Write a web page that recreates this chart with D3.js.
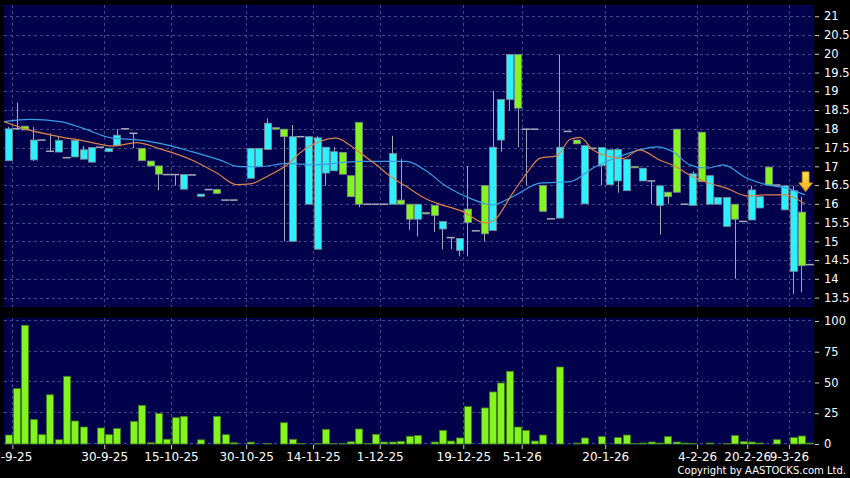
<!DOCTYPE html>
<html>
<head>
<meta charset="utf-8">
<script src="https://cdn.jsdelivr.net/npm/d3@7"></script>
<style>
  body { margin: 0; background: #000; }
  svg { display: block; }
</style>
</head>
<body>
<svg id="chart" width="850" height="478"></svg>
<script>
// one entry per trading slot (97 slots), null = no trade drawn
const openPrices = [17.15,18.0,18.07,17.17,17.7,17.4,17.38,17.23,17.25,17.19,17.11,17.51,17.39,17.55,18.0,17.88,17.48,17.14,17.01,16.78,
  16.78,16.39,16.77,16.2,16.38,16.38,16.1,16.1,null,16.68,16.99,17.45,18.03,17.99,15.0,17.79,15.99,14.79,16.82,16.88,
  17.37,16.75,18.17,15.99,15.99,15.99,15.99,16.1,15.99,15.59,15.77,15.96,15.33,15.1,14.76,15.86,15.28,16.49,15.29,17.7,
  18.78,19.98,17.99,17.99,16.49,15.6,15.62,17.93,17.7,16.0,17.48,17.02,16.51,16.61,16.35,17.0,16.61,16.61,15.96,16.31,
  17.99,15.99,15.96,17.91,15.99,15.99,15.4,15.99,15.53,15.57,15.89,16.98,16.5,15.84,14.2,15.78,14.38];
const highPrices = [18.05,18.7,18.07,18.05,17.7,17.88,17.79,17.23,17.69,17.54,17.5,17.51,17.48,17.99,18.0,17.88,17.48,17.14,17.01,16.78,
  16.78,16.78,16.77,16.26,16.38,16.38,16.1,16.1,null,17.48,17.48,18.28,18.03,17.99,18.1,17.79,17.79,17.81,17.51,17.51,
  17.37,16.75,18.17,15.99,15.99,15.99,17.81,17.2,15.99,15.99,15.77,15.96,15.53,15.1,15.08,17.01,15.28,16.49,19.01,18.78,
  19.98,19.98,17.99,17.99,16.49,15.6,19.98,17.93,17.7,17.55,17.48,17.5,17.44,17.45,17.19,17.0,16.95,16.61,16.48,16.31,
  17.99,15.99,16.86,17.91,16.75,16.17,16.17,15.99,15.53,16.48,16.19,16.98,16.5,16.48,16.48,16.19,14.38];
const lowPrices = [17.15,18.0,17.97,17.14,17.7,17.4,17.38,17.23,17.25,17.19,17.11,17.51,17.39,17.55,18.0,17.48,17.15,17.01,16.36,16.78,
  16.49,16.39,16.77,16.2,16.38,16.28,16.1,16.1,null,16.68,16.99,17.45,17.99,15.0,15.0,17.79,15.99,14.79,16.48,16.88,
  16.79,16.19,15.91,15.99,15.99,15.99,15.99,15.99,15.31,15.13,15.73,15.25,14.79,14.79,14.6,14.6,15.28,15.0,15.29,17.39,
  18.48,17.51,16.49,17.99,15.8,15.6,15.62,17.93,17.6,16.0,17.48,16.5,16.51,16.3,16.35,16.97,16.61,15.99,15.18,15.99,
  16.31,15.99,15.96,16.59,15.99,15.99,15.4,14.0,15.53,15.57,15.89,16.5,16.5,15.84,13.6,13.64,14.38];
const closePrices = [18.0,18.0,17.97,17.7,17.7,17.4,17.69,17.23,17.69,17.44,17.5,17.51,17.48,17.83,18.0,17.88,17.15,17.01,16.79,16.78,
  16.78,16.78,16.77,16.26,16.38,16.28,16.1,16.1,null,17.48,17.48,18.15,17.99,17.79,17.79,17.79,17.79,17.76,17.51,17.39,
  16.79,16.19,15.99,15.99,15.99,15.99,17.34,15.99,15.59,15.99,15.73,15.69,15.53,15.1,15.08,15.5,15.28,15.2,17.51,18.78,
  19.98,18.55,17.99,17.99,15.8,15.6,17.51,17.93,17.6,17.55,17.48,17.5,17.44,17.45,17.19,16.97,16.95,16.61,16.48,16.19,
  16.31,15.99,16.8,16.59,16.75,16.17,16.17,15.59,15.53,16.37,16.19,16.5,16.5,16.48,16.35,14.35,14.38];
const volumes = [7.3,45,96.5,20,7.6,40,3.5,55,18.7,13.8,0,13,7.6,12.6,0,18.4,31.4,1,24.7,3.9,
  21.4,22.5,0,3.4,0,22.5,7.6,1,0,1.5,0,0.5,0,17.3,3.8,0.5,0,0.3,11.9,0.3,
  0.5,1.8,12.2,0.5,7.9,1.6,1.6,2.2,6.3,6.9,0,1.6,11.1,2.4,4.9,30.4,0,29.3,42.3,49.6,
  59.1,13.8,11.1,2.4,7.3,0,62.6,0,0.8,4.9,0,6,0,5.2,7.3,0.4,0.8,1.6,0.8,6,
  1.6,0.8,0.5,0,0.8,0,0.5,7,1.9,1.6,0.8,0,3.5,0,5.2,6.5,0.8];

// moving averages (slot position, price)
const maShortSlots = [-0.5,1.8,5,9,12.5,15.4,18,22,25,27.4,29,31,33.4,34.9,37.3,39.3,40.9,42.5,44.1,45.7,47.7,49.9,51.3,54.4,57.1,58,60.4,62.1,63.7,65.7,67.3,68.5,70,72,73.6,75.6,78,80,81.6,84,86,88.5,90.8,93.2,93.9,95.4];
const maShortValues = [18.19,18.01,17.84,17.68,17.54,17.63,17.48,17.17,16.82,16.51,16.53,16.73,17.04,17.35,17.66,17.75,17.57,17.3,17.04,16.74,16.46,16.15,16.02,15.8,15.49,15.53,16.28,16.82,17.22,17.28,17.72,17.77,17.44,17.26,17.21,17.44,17.17,16.99,16.77,16.55,16.42,16.21,16.24,16.24,16.19,16.0];
const maLongSlots = [-0.5,2.6,6.2,9,12.5,15.8,19,22,25.3,27.7,30.1,33.4,36.5,42.1,47.7,49.9,52.5,55.6,58,60.4,63.7,67.3,70,73.2,75.3,77.7,79.6,81.6,83.7,85.6,88.5,90.8,93.2,95.4];
const maLongValues = [18.19,18.25,18.19,18.01,17.75,17.7,17.57,17.39,17.17,16.99,16.99,17.08,17.04,17.13,17.13,16.9,16.46,16.12,15.97,16.19,16.55,16.59,16.95,17.26,17.42,17.52,17.39,17.04,16.95,17.04,16.68,16.51,16.42,16.24];

const dateTickSlots = [0.5,11.5,19.5,28.5,36.5,44.5,54.5,61.5,71.5,82.5,88.5,93.5];
const dateTickLabels = ["17-9-25","30-9-25","15-10-25","30-10-25","14-11-25","1-12-25","19-12-25","5-1-26","20-1-26","4-2-26","20-2-26","9-3-26"];
const priceTicks = [13.5,14,14.5,15,15.5,16,16.5,17,17.5,18,18.5,19,19.5,20,20.5,21];
const volumeTicks = [0,25,50,75,100];

const svg = d3.select("#chart");
const left = 4, right = 814;
const priceTop = 5, priceBottom = 307;
const volTop = 318, volBottom = 445;

const x = d3.scaleLinear().domain([-0.5, 96.5]).range([left, right]);
const yP = d3.scaleLinear().domain([13.25, 21.3]).range([priceBottom, priceTop]);
const yV = d3.scaleLinear().domain([0, 102.4]).range([444, volTop]);

const panelFill = "#02024c";
const gridColor = "#3d4a8e";
const upColor = "#2cf0fc";
const downColor = "#84f41e";

svg.append("rect").attr("width", 850).attr("height", 478).attr("fill", "#000");
svg.append("rect").attr("x", left).attr("y", priceTop).attr("width", right - left).attr("height", priceBottom - priceTop).attr("fill", panelFill);
svg.append("rect").attr("x", left).attr("y", volTop).attr("width", right - left).attr("height", volBottom - volTop).attr("fill", panelFill);

const defs = svg.append("defs");
defs.append("clipPath").attr("id", "clipPrice").append("rect")
  .attr("x", left).attr("y", priceTop).attr("width", right - left).attr("height", priceBottom - priceTop);
const grad = defs.append("linearGradient").attr("id", "arrowFill").attr("x1", 0).attr("x2", 0).attr("y1", 0).attr("y2", 1);
grad.append("stop").attr("offset", "0%").attr("stop-color", "#ffe34a");
grad.append("stop").attr("offset", "100%").attr("stop-color", "#f4a81a");

// grid
const grid = svg.append("g").attr("stroke", gridColor).attr("stroke-dasharray", "3,3").attr("stroke-width", 1);
grid.selectAll(".hp").data(priceTicks).enter().append("line")
  .attr("x1", left).attr("x2", right)
  .attr("y1", d => Math.round(yP(d)) + 0.5).attr("y2", d => Math.round(yP(d)) + 0.5);
grid.selectAll(".hv").data(volumeTicks).enter().append("line")
  .attr("x1", left).attr("x2", right)
  .attr("y1", d => Math.round(yV(d)) - 0.5).attr("y2", d => Math.round(yV(d)) - 0.5);
dateTickSlots.forEach(s => {
  const gx = Math.round(x(s)) + 0.5;
  grid.append("line").attr("x1", gx).attr("x2", gx).attr("y1", priceTop).attr("y2", priceBottom);
  grid.append("line").attr("x1", gx).attr("x2", gx).attr("y1", volTop).attr("y2", volBottom);
});

// candles
const slots = d3.range(openPrices.length).filter(i => openPrices[i] !== null);
const bodyW = 7;
const candles = svg.append("g").attr("clip-path", "url(#clipPrice)");

candles.selectAll(".wick").data(slots.filter(i => highPrices[i] > lowPrices[i])).enter().append("line")
  .attr("x1", i => Math.round(x(i)) + 0.5).attr("x2", i => Math.round(x(i)) + 0.5)
  .attr("y1", i => yP(highPrices[i])).attr("y2", i => yP(lowPrices[i]))
  .attr("stroke", "#a4a8b4").attr("stroke-width", 1);

const flats = slots.filter(i => Math.abs(openPrices[i] - closePrices[i]) < 0.005);
const bodies = slots.filter(i => Math.abs(openPrices[i] - closePrices[i]) >= 0.005);

candles.selectAll(".flat").data(flats).enter().append("line")
  .attr("x1", i => x(i) - 4).attr("x2", i => x(i) + 4)
  .attr("y1", i => yP(openPrices[i])).attr("y2", i => yP(openPrices[i]))
  .attr("stroke", "#a8acb8").attr("stroke-width", 1.5);

candles.selectAll(".body").data(bodies).enter().append("rect")
  .attr("x", i => Math.round(x(i) - bodyW / 2) + 0.5)
  .attr("y", i => yP(Math.max(openPrices[i], closePrices[i])))
  .attr("width", bodyW)
  .attr("height", i => Math.max(1.5, Math.abs(yP(openPrices[i]) - yP(closePrices[i]))))
  .attr("fill", i => closePrices[i] > openPrices[i] ? upColor : downColor)
  .attr("stroke", "#7e8a96").attr("stroke-width", 0.8);

// moving averages
const maLine = d3.line().x(d => x(d[0])).y(d => yP(d[1])).curve(d3.curveMonotoneX);
candles.append("path").datum(maLongSlots.map((s, k) => [s, maLongValues[k]]))
  .attr("d", maLine).attr("fill", "none").attr("stroke", "#3a9ee6").attr("stroke-width", 1.2);
candles.append("path").datum(maShortSlots.map((s, k) => [s, maShortValues[k]]))
  .attr("d", maLine).attr("fill", "none").attr("stroke", "#d9824a").attr("stroke-width", 1.2);

// down arrow over the last session
const ax = x(95.5), ay = yP(16.32);
svg.append("path")
  .attr("d", `M${ax - 3.5},${ay - 20} h7 v11 h3.5 l-7,9 l-7,-9 h3.5 z`)
  .attr("fill", "url(#arrowFill)").attr("stroke", "#b07a10").attr("stroke-width", 0.7);

// volume
svg.append("g").selectAll("rect").data(slots).enter().append("rect")
  .attr("x", i => Math.round(x(i) - bodyW / 2) + 0.5)
  .attr("y", i => yV(volumes[i]))
  .attr("width", bodyW)
  .attr("height", i => yV(0) - yV(volumes[i]))
  .attr("fill", downColor).attr("stroke", "#3f7f14").attr("stroke-width", 0.8);

// axes
const fmt = d3.format("~g");
const styleAxis = g => {
  g.select(".domain").remove();
  g.selectAll(".tick line").attr("stroke", "#c8c8c8");
  g.selectAll(".tick text").attr("fill", "#fff").attr("font-family", "DejaVu Sans, sans-serif");
};
svg.append("g").attr("transform", `translate(${right + 1},0)`)
  .call(d3.axisRight(yP).tickValues(priceTicks).tickFormat(fmt).tickSize(4).tickPadding(5))
  .call(styleAxis).selectAll(".tick text").attr("font-size", "11.5px");
svg.append("g").attr("transform", `translate(${right + 1},0)`)
  .call(d3.axisRight(yV).tickValues(volumeTicks).tickFormat(fmt).tickSize(4).tickPadding(5))
  .call(styleAxis).selectAll(".tick text").attr("font-size", "11.5px");
const xAxisG = svg.append("g").attr("transform", `translate(0,${volBottom})`)
  .call(d3.axisBottom(x).tickValues(dateTickSlots).tickFormat((d, k) => dateTickLabels[k]).tickSize(4).tickPadding(3.5))
  .call(styleAxis);
xAxisG.selectAll(".tick text").attr("font-size", "12px");
// the first date label sits half off the left edge, as in the original
xAxisG.select(".tick text").attr("dx", -4);

svg.append("text").attr("x", 846).attr("y", 474).attr("text-anchor", "end")
  .attr("fill", "#fff").attr("font-family", "DejaVu Sans, sans-serif").attr("font-size", "10px")
  .text("Copyright by AASTOCKS.com Ltd.");
</script>
</body>
</html>
